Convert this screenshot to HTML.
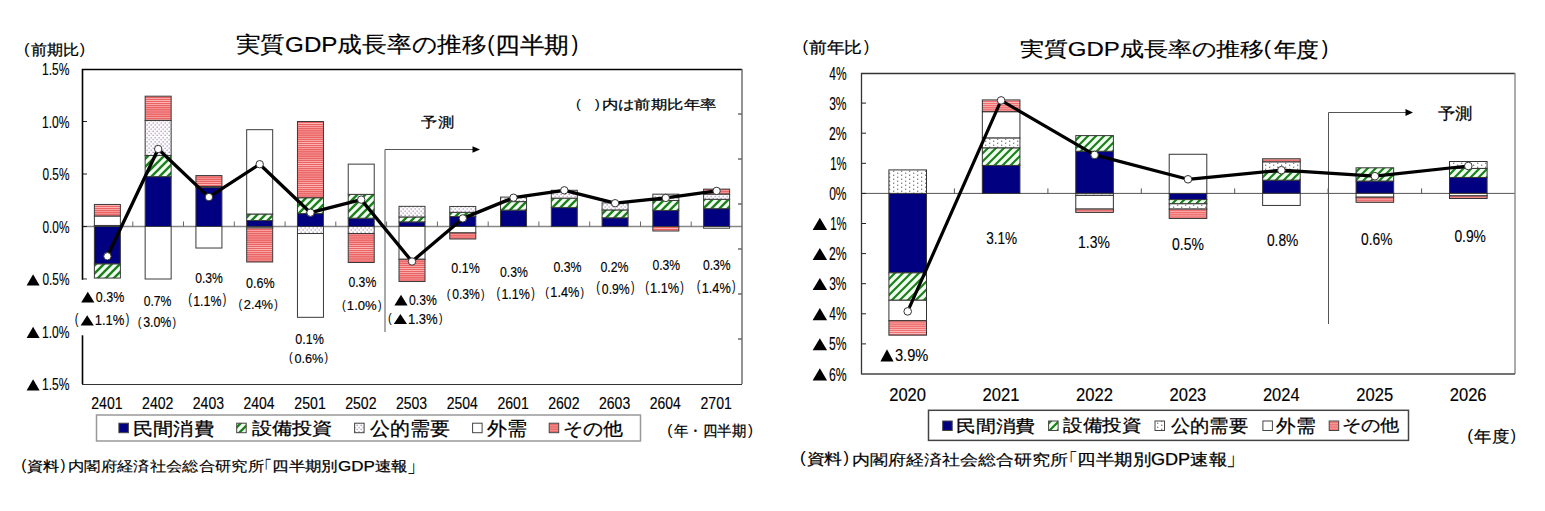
<!DOCTYPE html><html><head><meta charset="utf-8"><style>html,body{margin:0;padding:0;background:#fff;}svg{display:block;}text{font-family:"Liberation Sans", sans-serif;fill:#000;}</style></head><body>
<svg width="1545" height="511" viewBox="0 0 1545 511">
<defs>
<pattern id="pg" patternUnits="userSpaceOnUse" width="8" height="8"><rect width="8" height="8" fill="#f4fff4"/><path d="M-2,2 L2,-2 M0,8 L8,0 M6,10 L10,6" stroke="#1c801c" stroke-width="2.4"/></pattern>
<pattern id="pg2" patternUnits="userSpaceOnUse" width="8" height="8"><rect width="8" height="8" fill="#f0fff0"/><path d="M-2,2 L2,-2 M0,8 L8,0 M6,10 L10,6" stroke="#1c801c" stroke-width="2.2"/></pattern>
<pattern id="pd" patternUnits="userSpaceOnUse" width="4" height="4.2"><rect width="4" height="4.2" fill="#fdfbfe"/><rect x="0.6" y="0.6" width="1.1" height="1.1" fill="#8a7a9a"/><rect x="2.6" y="2.7" width="1.1" height="1.1" fill="#8a7a9a"/></pattern>
<pattern id="pd2" patternUnits="userSpaceOnUse" width="8" height="4"><rect width="8" height="4" fill="#ffffff"/><rect x="1" y="0.6" width="1.3" height="1.3" fill="#7c7c7c"/><rect x="5" y="2.6" width="1.3" height="1.3" fill="#7c7c7c"/></pattern>
<pattern id="pr" patternUnits="userSpaceOnUse" width="4" height="2.1"><rect width="4" height="2.1" fill="#ea6464"/><rect y="1.4" width="4" height="0.7" fill="#ffb8b8"/></pattern>
<pattern id="pr2" patternUnits="userSpaceOnUse" width="4" height="2.1"><rect width="4" height="2.1" fill="#ee7070"/><rect y="1.4" width="4" height="0.7" fill="#ffc0c0"/></pattern>
</defs>
<rect x="82.5" y="69.5" width="660" height="315" fill="#fff" stroke="none"/>
<line x1="82" y1="226.5" x2="742" y2="226.5" stroke="#888" stroke-width="1.5"/>
<line x1="132.8" y1="226.5" x2="132.8" y2="221.5" stroke="#666" stroke-width="1"/>
<line x1="183.5" y1="226.5" x2="183.5" y2="221.5" stroke="#666" stroke-width="1"/>
<line x1="234.3" y1="226.5" x2="234.3" y2="221.5" stroke="#666" stroke-width="1"/>
<line x1="285.1" y1="226.5" x2="285.1" y2="221.5" stroke="#666" stroke-width="1"/>
<line x1="335.8" y1="226.5" x2="335.8" y2="221.5" stroke="#666" stroke-width="1"/>
<line x1="386.6" y1="226.5" x2="386.6" y2="221.5" stroke="#666" stroke-width="1"/>
<line x1="437.4" y1="226.5" x2="437.4" y2="221.5" stroke="#666" stroke-width="1"/>
<line x1="488.2" y1="226.5" x2="488.2" y2="221.5" stroke="#666" stroke-width="1"/>
<line x1="538.9" y1="226.5" x2="538.9" y2="221.5" stroke="#666" stroke-width="1"/>
<line x1="589.7" y1="226.5" x2="589.7" y2="221.5" stroke="#666" stroke-width="1"/>
<line x1="640.5" y1="226.5" x2="640.5" y2="221.5" stroke="#666" stroke-width="1"/>
<line x1="691.2" y1="226.5" x2="691.2" y2="221.5" stroke="#666" stroke-width="1"/>
<line x1="738" y1="114" x2="742" y2="114" stroke="#222" stroke-width="1"/>
<line x1="738" y1="159" x2="742" y2="159" stroke="#222" stroke-width="1"/>
<line x1="738" y1="204" x2="742" y2="204" stroke="#222" stroke-width="1"/>
<line x1="738" y1="249" x2="742" y2="249" stroke="#222" stroke-width="1"/>
<line x1="738" y1="294" x2="742" y2="294" stroke="#222" stroke-width="1"/>
<line x1="738" y1="339" x2="742" y2="339" stroke="#222" stroke-width="1"/>
<line x1="82" y1="121.5" x2="87" y2="121.5" stroke="#222" stroke-width="1"/>
<line x1="82" y1="174.0" x2="87" y2="174.0" stroke="#222" stroke-width="1"/>
<line x1="82" y1="226.5" x2="87" y2="226.5" stroke="#222" stroke-width="1"/>
<line x1="82" y1="279.0" x2="87" y2="279.0" stroke="#222" stroke-width="1"/>
<line x1="82" y1="331.5" x2="87" y2="331.5" stroke="#222" stroke-width="1"/>
<rect x="94.38" y="226.50" width="26.00" height="37.48" fill="#000080" stroke="#3a3a3a" stroke-width="1"/>
<rect x="94.38" y="263.99" width="26.00" height="14.07" fill="url(#pg)" stroke="#3a3a3a" stroke-width="1"/>
<rect x="94.38" y="225.45" width="26.00" height="1.05" fill="url(#pd)" stroke="#3a3a3a" stroke-width="1"/>
<rect x="94.38" y="216.00" width="26.00" height="9.45" fill="#ffffff" stroke="#3a3a3a" stroke-width="1"/>
<rect x="94.38" y="204.45" width="26.00" height="11.55" fill="url(#pr)" stroke="#3a3a3a" stroke-width="1"/>
<rect x="145.15" y="176.62" width="26.00" height="49.88" fill="#000080" stroke="#3a3a3a" stroke-width="1"/>
<rect x="145.15" y="155.52" width="26.00" height="21.11" fill="url(#pg)" stroke="#3a3a3a" stroke-width="1"/>
<rect x="145.15" y="120.34" width="26.00" height="35.18" fill="url(#pd)" stroke="#3a3a3a" stroke-width="1"/>
<rect x="145.15" y="226.50" width="26.00" height="52.50" fill="#ffffff" stroke="#3a3a3a" stroke-width="1"/>
<rect x="145.15" y="96.19" width="26.00" height="24.15" fill="url(#pr)" stroke="#3a3a3a" stroke-width="1"/>
<rect x="195.92" y="187.55" width="26.00" height="38.95" fill="#000080" stroke="#3a3a3a" stroke-width="1"/>
<rect x="195.92" y="186.50" width="26.00" height="1.05" fill="url(#pd)" stroke="#3a3a3a" stroke-width="1"/>
<rect x="195.92" y="226.50" width="26.00" height="21.52" fill="#ffffff" stroke="#3a3a3a" stroke-width="1"/>
<rect x="195.92" y="175.58" width="26.00" height="10.92" fill="url(#pr)" stroke="#3a3a3a" stroke-width="1"/>
<rect x="246.69" y="220.51" width="26.00" height="5.99" fill="#000080" stroke="#3a3a3a" stroke-width="1"/>
<rect x="246.69" y="214.00" width="26.00" height="6.51" fill="url(#pg)" stroke="#3a3a3a" stroke-width="1"/>
<rect x="246.69" y="226.50" width="26.00" height="1.47" fill="url(#pd)" stroke="#3a3a3a" stroke-width="1"/>
<rect x="246.69" y="129.69" width="26.00" height="84.32" fill="#ffffff" stroke="#3a3a3a" stroke-width="1"/>
<rect x="246.69" y="227.97" width="26.00" height="34.02" fill="url(#pr)" stroke="#3a3a3a" stroke-width="1"/>
<rect x="297.46" y="213.59" width="26.00" height="12.91" fill="#000080" stroke="#3a3a3a" stroke-width="1"/>
<rect x="297.46" y="197.73" width="26.00" height="15.85" fill="url(#pg)" stroke="#3a3a3a" stroke-width="1"/>
<rect x="297.46" y="226.50" width="26.00" height="7.04" fill="url(#pd)" stroke="#3a3a3a" stroke-width="1"/>
<rect x="297.46" y="233.53" width="26.00" height="83.79" fill="#ffffff" stroke="#3a3a3a" stroke-width="1"/>
<rect x="297.46" y="121.50" width="26.00" height="76.23" fill="url(#pr)" stroke="#3a3a3a" stroke-width="1"/>
<rect x="348.23" y="218.21" width="26.00" height="8.29" fill="#000080" stroke="#3a3a3a" stroke-width="1"/>
<rect x="348.23" y="194.37" width="26.00" height="23.84" fill="url(#pg)" stroke="#3a3a3a" stroke-width="1"/>
<rect x="348.23" y="226.50" width="26.00" height="7.04" fill="url(#pd)" stroke="#3a3a3a" stroke-width="1"/>
<rect x="348.23" y="164.13" width="26.00" height="30.24" fill="#ffffff" stroke="#3a3a3a" stroke-width="1"/>
<rect x="348.23" y="233.53" width="26.00" height="28.98" fill="url(#pr)" stroke="#3a3a3a" stroke-width="1"/>
<rect x="399.00" y="221.88" width="26.00" height="4.62" fill="#000080" stroke="#3a3a3a" stroke-width="1"/>
<rect x="399.00" y="216.94" width="26.00" height="4.93" fill="url(#pg)" stroke="#3a3a3a" stroke-width="1"/>
<rect x="399.00" y="206.34" width="26.00" height="10.61" fill="url(#pd)" stroke="#3a3a3a" stroke-width="1"/>
<rect x="399.00" y="226.50" width="26.00" height="32.76" fill="#ffffff" stroke="#3a3a3a" stroke-width="1"/>
<rect x="399.00" y="259.26" width="26.00" height="22.26" fill="url(#pr)" stroke="#3a3a3a" stroke-width="1"/>
<rect x="449.77" y="216.53" width="26.00" height="9.97" fill="#000080" stroke="#3a3a3a" stroke-width="1"/>
<rect x="449.77" y="212.33" width="26.00" height="4.20" fill="url(#pg)" stroke="#3a3a3a" stroke-width="1"/>
<rect x="449.77" y="206.45" width="26.00" height="5.88" fill="url(#pd)" stroke="#3a3a3a" stroke-width="1"/>
<rect x="449.77" y="226.50" width="26.00" height="6.41" fill="#ffffff" stroke="#3a3a3a" stroke-width="1"/>
<rect x="449.77" y="232.91" width="26.00" height="6.09" fill="url(#pr)" stroke="#3a3a3a" stroke-width="1"/>
<rect x="500.54" y="210.12" width="26.00" height="16.38" fill="#000080" stroke="#3a3a3a" stroke-width="1"/>
<rect x="500.54" y="201.62" width="26.00" height="8.51" fill="url(#pg)" stroke="#3a3a3a" stroke-width="1"/>
<rect x="500.54" y="197.10" width="26.00" height="4.51" fill="url(#pd)" stroke="#3a3a3a" stroke-width="1"/>
<rect x="551.31" y="207.60" width="26.00" height="18.90" fill="#000080" stroke="#3a3a3a" stroke-width="1"/>
<rect x="551.31" y="198.15" width="26.00" height="9.45" fill="url(#pg)" stroke="#3a3a3a" stroke-width="1"/>
<rect x="551.31" y="190.28" width="26.00" height="7.88" fill="url(#pd)" stroke="#3a3a3a" stroke-width="1"/>
<rect x="602.08" y="217.78" width="26.00" height="8.71" fill="#000080" stroke="#3a3a3a" stroke-width="1"/>
<rect x="602.08" y="209.91" width="26.00" height="7.88" fill="url(#pg)" stroke="#3a3a3a" stroke-width="1"/>
<rect x="602.08" y="202.88" width="26.00" height="7.04" fill="url(#pd)" stroke="#3a3a3a" stroke-width="1"/>
<rect x="652.85" y="210.44" width="26.00" height="16.07" fill="#000080" stroke="#3a3a3a" stroke-width="1"/>
<rect x="652.85" y="200.46" width="26.00" height="9.97" fill="url(#pg)" stroke="#3a3a3a" stroke-width="1"/>
<rect x="652.85" y="194.16" width="26.00" height="6.30" fill="url(#pd)" stroke="#3a3a3a" stroke-width="1"/>
<rect x="652.85" y="226.50" width="26.00" height="4.51" fill="url(#pr)" stroke="#3a3a3a" stroke-width="1"/>
<rect x="703.62" y="208.65" width="26.00" height="17.85" fill="#000080" stroke="#3a3a3a" stroke-width="1"/>
<rect x="703.62" y="199.31" width="26.00" height="9.34" fill="url(#pg)" stroke="#3a3a3a" stroke-width="1"/>
<rect x="703.62" y="194.06" width="26.00" height="5.25" fill="url(#pd)" stroke="#3a3a3a" stroke-width="1"/>
<rect x="703.62" y="226.50" width="26.00" height="1.68" fill="#ffffff" stroke="#3a3a3a" stroke-width="1"/>
<rect x="703.62" y="189.12" width="26.00" height="4.93" fill="url(#pr)" stroke="#3a3a3a" stroke-width="1"/>
<path d="M385,332 L385,149.5 L474,149.5" fill="none" stroke="#555" stroke-width="1"/>
<path d="M480,149.5 L472.5,146.3 L472.5,152.7 Z" fill="#000"/>
<polyline points="107.4,256.3 158.2,149.0 208.9,197.1 259.7,164.2 310.5,212.7 361.2,199.6 412.0,261.5 462.8,218.4 513.5,197.7 564.3,190.3 615.1,203.2 665.8,197.9 716.6,190.9" fill="none" stroke="#000" stroke-width="3.3" stroke-linejoin="round"/>
<circle cx="107.4" cy="256.3" r="3.7" fill="#fff" stroke="#333" stroke-width="1"/>
<circle cx="158.2" cy="149.0" r="3.7" fill="#fff" stroke="#333" stroke-width="1"/>
<circle cx="208.9" cy="197.1" r="3.7" fill="#fff" stroke="#333" stroke-width="1"/>
<circle cx="259.7" cy="164.2" r="3.7" fill="#fff" stroke="#333" stroke-width="1"/>
<circle cx="310.5" cy="212.7" r="3.7" fill="#fff" stroke="#333" stroke-width="1"/>
<circle cx="361.2" cy="199.6" r="3.7" fill="#fff" stroke="#333" stroke-width="1"/>
<circle cx="412.0" cy="261.5" r="3.7" fill="#fff" stroke="#333" stroke-width="1"/>
<circle cx="462.8" cy="218.4" r="3.7" fill="#fff" stroke="#333" stroke-width="1"/>
<circle cx="513.5" cy="197.7" r="3.7" fill="#fff" stroke="#333" stroke-width="1"/>
<circle cx="564.3" cy="190.3" r="3.7" fill="#fff" stroke="#333" stroke-width="1"/>
<circle cx="615.1" cy="203.2" r="3.7" fill="#fff" stroke="#333" stroke-width="1"/>
<circle cx="665.8" cy="197.9" r="3.7" fill="#fff" stroke="#333" stroke-width="1"/>
<circle cx="716.6" cy="190.9" r="3.7" fill="#fff" stroke="#333" stroke-width="1"/>
<path d="M82.5,384 L82.5,69.5 L742,69.5" fill="none" stroke="#000" stroke-width="1.6"/>
<line x1="742" y1="69" x2="742" y2="384" stroke="#666" stroke-width="1.4"/>
<line x1="82" y1="384.5" x2="742" y2="384.5" stroke="#333" stroke-width="1.1"/>
<line x1="861" y1="193.4" x2="1515" y2="193.4" stroke="#555" stroke-width="1"/>
<line x1="954.4" y1="193.4" x2="954.4" y2="188.4" stroke="#555" stroke-width="1"/>
<line x1="1047.9" y1="193.4" x2="1047.9" y2="188.4" stroke="#555" stroke-width="1"/>
<line x1="1141.3" y1="193.4" x2="1141.3" y2="188.4" stroke="#555" stroke-width="1"/>
<line x1="1234.7" y1="193.4" x2="1234.7" y2="188.4" stroke="#555" stroke-width="1"/>
<line x1="1328.1" y1="193.4" x2="1328.1" y2="188.4" stroke="#555" stroke-width="1"/>
<line x1="1421.6" y1="193.4" x2="1421.6" y2="188.4" stroke="#555" stroke-width="1"/>
<line x1="861" y1="103.1" x2="866" y2="103.1" stroke="#222" stroke-width="1"/>
<line x1="861" y1="133.2" x2="866" y2="133.2" stroke="#222" stroke-width="1"/>
<line x1="861" y1="163.3" x2="866" y2="163.3" stroke="#222" stroke-width="1"/>
<line x1="861" y1="193.4" x2="866" y2="193.4" stroke="#222" stroke-width="1"/>
<line x1="861" y1="223.5" x2="866" y2="223.5" stroke="#222" stroke-width="1"/>
<line x1="861" y1="253.6" x2="866" y2="253.6" stroke="#222" stroke-width="1"/>
<line x1="861" y1="283.7" x2="866" y2="283.7" stroke="#222" stroke-width="1"/>
<line x1="861" y1="313.8" x2="866" y2="313.8" stroke="#222" stroke-width="1"/>
<line x1="861" y1="343.9" x2="866" y2="343.9" stroke="#222" stroke-width="1"/>
<rect x="888.91" y="193.40" width="37.60" height="79.46" fill="#000080" stroke="#333" stroke-width="1"/>
<rect x="888.91" y="272.86" width="37.60" height="27.39" fill="url(#pg2)" stroke="#333" stroke-width="1"/>
<rect x="888.91" y="169.92" width="37.60" height="23.48" fill="url(#pd2)" stroke="#333" stroke-width="1"/>
<rect x="888.91" y="300.26" width="37.60" height="20.47" fill="#ffffff" stroke="#333" stroke-width="1"/>
<rect x="888.91" y="320.72" width="37.60" height="14.45" fill="url(#pr2)" stroke="#333" stroke-width="1"/>
<rect x="982.34" y="165.41" width="37.60" height="27.99" fill="#000080" stroke="#333" stroke-width="1"/>
<rect x="982.34" y="147.80" width="37.60" height="17.61" fill="url(#pg2)" stroke="#333" stroke-width="1"/>
<rect x="982.34" y="137.87" width="37.60" height="9.93" fill="url(#pd2)" stroke="#333" stroke-width="1"/>
<rect x="982.34" y="111.68" width="37.60" height="26.19" fill="#ffffff" stroke="#333" stroke-width="1"/>
<rect x="982.34" y="99.94" width="37.60" height="11.74" fill="url(#pr2)" stroke="#333" stroke-width="1"/>
<rect x="1075.77" y="151.26" width="37.60" height="42.14" fill="#000080" stroke="#333" stroke-width="1"/>
<rect x="1075.77" y="135.61" width="37.60" height="15.65" fill="url(#pg2)" stroke="#333" stroke-width="1"/>
<rect x="1075.77" y="193.40" width="37.60" height="1.99" fill="url(#pd2)" stroke="#333" stroke-width="1"/>
<rect x="1075.77" y="195.39" width="37.60" height="13.70" fill="#ffffff" stroke="#333" stroke-width="1"/>
<rect x="1075.77" y="209.08" width="37.60" height="3.31" fill="url(#pr2)" stroke="#333" stroke-width="1"/>
<rect x="1169.20" y="193.40" width="37.60" height="6.20" fill="#000080" stroke="#333" stroke-width="1"/>
<rect x="1169.20" y="199.60" width="37.60" height="4.21" fill="url(#pg2)" stroke="#333" stroke-width="1"/>
<rect x="1169.20" y="203.81" width="37.60" height="5.30" fill="url(#pd2)" stroke="#333" stroke-width="1"/>
<rect x="1169.20" y="154.27" width="37.60" height="39.13" fill="#ffffff" stroke="#333" stroke-width="1"/>
<rect x="1169.20" y="209.11" width="37.60" height="9.33" fill="url(#pr2)" stroke="#333" stroke-width="1"/>
<rect x="1262.63" y="180.16" width="37.60" height="13.24" fill="#000080" stroke="#333" stroke-width="1"/>
<rect x="1262.63" y="172.03" width="37.60" height="8.13" fill="url(#pg2)" stroke="#333" stroke-width="1"/>
<rect x="1262.63" y="161.79" width="37.60" height="10.23" fill="url(#pd2)" stroke="#333" stroke-width="1"/>
<rect x="1262.63" y="193.40" width="37.60" height="12.04" fill="#ffffff" stroke="#333" stroke-width="1"/>
<rect x="1262.63" y="158.78" width="37.60" height="3.01" fill="url(#pr2)" stroke="#333" stroke-width="1"/>
<rect x="1356.06" y="181.06" width="37.60" height="12.34" fill="#000080" stroke="#333" stroke-width="1"/>
<rect x="1356.06" y="167.81" width="37.60" height="13.24" fill="url(#pg2)" stroke="#333" stroke-width="1"/>
<rect x="1356.06" y="193.40" width="37.60" height="3.79" fill="#ffffff" stroke="#333" stroke-width="1"/>
<rect x="1356.06" y="197.19" width="37.60" height="5.12" fill="url(#pr2)" stroke="#333" stroke-width="1"/>
<rect x="1449.49" y="177.45" width="37.60" height="15.95" fill="#000080" stroke="#333" stroke-width="1"/>
<rect x="1449.49" y="168.42" width="37.60" height="9.03" fill="url(#pg2)" stroke="#333" stroke-width="1"/>
<rect x="1449.49" y="161.49" width="37.60" height="6.92" fill="url(#pd2)" stroke="#333" stroke-width="1"/>
<rect x="1449.49" y="193.40" width="37.60" height="2.50" fill="#ffffff" stroke="#333" stroke-width="1"/>
<rect x="1449.49" y="195.90" width="37.60" height="2.59" fill="url(#pr2)" stroke="#333" stroke-width="1"/>
<path d="M1328.5,324 L1328.5,112.5 L1407,112.5" fill="none" stroke="#555" stroke-width="1"/>
<path d="M1413,112.5 L1405.5,109 L1405.5,116 Z" fill="#000"/>
<polyline points="907.7,311.4 1001.1,100.4 1094.6,154.9 1188.0,179.3 1281.4,170.2 1374.9,176.2 1468.3,166.0" fill="none" stroke="#000" stroke-width="3.2" stroke-linejoin="round"/>
<circle cx="907.7" cy="311.4" r="3.8" fill="#fff" stroke="#333" stroke-width="1"/>
<circle cx="1001.1" cy="100.4" r="3.8" fill="#fff" stroke="#333" stroke-width="1"/>
<circle cx="1094.6" cy="154.9" r="3.8" fill="#fff" stroke="#333" stroke-width="1"/>
<circle cx="1188.0" cy="179.3" r="3.8" fill="#fff" stroke="#333" stroke-width="1"/>
<circle cx="1281.4" cy="170.2" r="3.8" fill="#fff" stroke="#333" stroke-width="1"/>
<circle cx="1374.9" cy="176.2" r="3.8" fill="#fff" stroke="#333" stroke-width="1"/>
<circle cx="1468.3" cy="166.0" r="3.8" fill="#fff" stroke="#333" stroke-width="1"/>
<path d="M861.5,374 L861.5,73.5 L1515,73.5" fill="none" stroke="#333" stroke-width="1.3"/>
<line x1="1515" y1="73" x2="1515" y2="374" stroke="#888" stroke-width="1.4"/>
<line x1="861" y1="374" x2="1515" y2="374" stroke="#444" stroke-width="1.3"/>
<rect x="96.5" y="415" width="544.0" height="26" fill="#fff" stroke="#999" stroke-width="1.5"/>
<rect x="118.9" y="423.2" width="9.5" height="9.5" fill="#000080" stroke="#444" stroke-width="1"/>
<text x="132.98" y="434.74" font-size="17.76" textLength="81.03" lengthAdjust="spacingAndGlyphs" stroke="#000" stroke-width="0.25">民間消費</text>
<rect x="236.7" y="423.2" width="9.5" height="9.5" fill="url(#pg)" stroke="#444" stroke-width="1"/>
<text x="251.60" y="434.30" font-size="17.23" textLength="80.91" lengthAdjust="spacingAndGlyphs" stroke="#000" stroke-width="0.25">設備投資</text>
<rect x="354.6" y="423.2" width="9.5" height="9.5" fill="url(#pd)" stroke="#444" stroke-width="1"/>
<text x="370.30" y="435.01" font-size="18.53" textLength="79.90" lengthAdjust="spacingAndGlyphs" stroke="#000" stroke-width="0.25">公的需要</text>
<rect x="472.6" y="423.2" width="9.5" height="9.5" fill="#ffffff" stroke="#444" stroke-width="1"/>
<text x="487.30" y="434.98" font-size="18.72" textLength="40.00" lengthAdjust="spacingAndGlyphs" stroke="#000" stroke-width="0.25">外需</text>
<rect x="549.2" y="423.2" width="9.5" height="9.5" fill="url(#pr)" stroke="#444" stroke-width="1"/>
<text x="562.93" y="434.55" font-size="17.96" textLength="59.67" lengthAdjust="spacingAndGlyphs" stroke="#000" stroke-width="0.25">その他</text>
<rect x="928.5" y="410.3" width="480.0" height="30.099999999999966" fill="#fff" stroke="#444" stroke-width="1.5"/>
<rect x="942.7" y="421.0" width="9.5" height="9.5" fill="#000080" stroke="#444" stroke-width="1"/>
<text x="955.71" y="431.58" font-size="17.45" textLength="79.69" lengthAdjust="spacingAndGlyphs" stroke="#000" stroke-width="0.25">民間消費</text>
<rect x="1048.6" y="421.0" width="9.5" height="9.5" fill="url(#pg2)" stroke="#444" stroke-width="1"/>
<text x="1063.30" y="431.15" font-size="16.93" textLength="78.38" lengthAdjust="spacingAndGlyphs" stroke="#000" stroke-width="0.25">設備投資</text>
<rect x="1155.0" y="421.0" width="9.5" height="9.5" fill="url(#pd2)" stroke="#444" stroke-width="1"/>
<text x="1170.80" y="431.68" font-size="18.00" textLength="77.17" lengthAdjust="spacingAndGlyphs" stroke="#000" stroke-width="0.25">公的需要</text>
<rect x="1262.9" y="421.0" width="9.5" height="9.5" fill="#ffffff" stroke="#444" stroke-width="1"/>
<text x="1275.90" y="431.65" font-size="18.19" textLength="39.39" lengthAdjust="spacingAndGlyphs" stroke="#000" stroke-width="0.25">外需</text>
<rect x="1329.2" y="421.0" width="9.5" height="9.5" fill="url(#pr2)" stroke="#444" stroke-width="1"/>
<text x="1341.88" y="431.23" font-size="17.45" textLength="57.51" lengthAdjust="spacingAndGlyphs" stroke="#000" stroke-width="0.25">その他</text>
<text x="235.71" y="52.32" font-size="21.54" textLength="251.12" lengthAdjust="spacingAndGlyphs" stroke="#000" stroke-width="0.15">実質GDP成長率の推移</text>
<text x="487.19" y="51.14" font-size="21.70" textLength="7.28" lengthAdjust="spacingAndGlyphs" stroke="#000" stroke-width="0.0">(</text>
<text x="494.84" y="53.17" font-size="23.33" textLength="74.09" lengthAdjust="spacingAndGlyphs" stroke="#000" stroke-width="0.25">四半期</text>
<text x="571.60" y="51.14" font-size="21.70" textLength="6.90" lengthAdjust="spacingAndGlyphs" stroke="#000" stroke-width="0.0">)</text>
<text x="23.90" y="53.91" font-size="14.26" textLength="5.55" lengthAdjust="spacingAndGlyphs" stroke="#000" stroke-width="0.0">(</text>
<text x="30.74" y="55.26" font-size="14.90" textLength="48.27" lengthAdjust="spacingAndGlyphs" stroke="#000" stroke-width="0.25">前期比</text>
<text x="79.80" y="53.91" font-size="14.26" textLength="5.35" lengthAdjust="spacingAndGlyphs" stroke="#000" stroke-width="0.0">)</text>
<text x="41.96" y="75.24" font-size="15.77" textLength="27.50" lengthAdjust="spacingAndGlyphs" stroke="#000" stroke-width="0.15">1.5%</text>
<text x="41.96" y="127.74" font-size="15.77" textLength="27.50" lengthAdjust="spacingAndGlyphs" stroke="#000" stroke-width="0.15">1.0%</text>
<text x="42.44" y="180.24" font-size="15.77" textLength="27.00" lengthAdjust="spacingAndGlyphs" stroke="#000" stroke-width="0.15">0.5%</text>
<text x="42.44" y="232.74" font-size="15.77" textLength="27.00" lengthAdjust="spacingAndGlyphs" stroke="#000" stroke-width="0.15">0.0%</text>
<path d="M26.60,285.50 L39.60,285.50 L33.10,274.30 Z" fill="#000"/>
<text x="42.44" y="285.24" font-size="15.77" textLength="27.00" lengthAdjust="spacingAndGlyphs" stroke="#000" stroke-width="0.15">0.5%</text>
<path d="M26.60,338.00 L39.60,338.00 L33.10,326.80 Z" fill="#000"/>
<text x="41.96" y="337.74" font-size="15.77" textLength="27.50" lengthAdjust="spacingAndGlyphs" stroke="#000" stroke-width="0.15">1.0%</text>
<path d="M26.60,390.50 L39.60,390.50 L33.10,379.30 Z" fill="#000"/>
<text x="41.96" y="390.24" font-size="15.77" textLength="27.50" lengthAdjust="spacingAndGlyphs" stroke="#000" stroke-width="0.15">1.5%</text>
<text x="91.28" y="408.84" font-size="16.34" textLength="31.36" lengthAdjust="spacingAndGlyphs" stroke="#000" stroke-width="0.15">2401</text>
<text x="142.05" y="408.84" font-size="16.34" textLength="31.36" lengthAdjust="spacingAndGlyphs" stroke="#000" stroke-width="0.15">2402</text>
<text x="192.82" y="408.84" font-size="16.34" textLength="31.21" lengthAdjust="spacingAndGlyphs" stroke="#000" stroke-width="0.15">2403</text>
<text x="243.59" y="408.84" font-size="16.34" textLength="31.06" lengthAdjust="spacingAndGlyphs" stroke="#000" stroke-width="0.15">2404</text>
<text x="294.36" y="408.84" font-size="16.34" textLength="31.36" lengthAdjust="spacingAndGlyphs" stroke="#000" stroke-width="0.15">2501</text>
<text x="345.13" y="408.84" font-size="16.34" textLength="31.36" lengthAdjust="spacingAndGlyphs" stroke="#000" stroke-width="0.15">2502</text>
<text x="395.90" y="408.84" font-size="16.34" textLength="31.21" lengthAdjust="spacingAndGlyphs" stroke="#000" stroke-width="0.15">2503</text>
<text x="446.67" y="408.84" font-size="16.34" textLength="31.06" lengthAdjust="spacingAndGlyphs" stroke="#000" stroke-width="0.15">2504</text>
<text x="497.43" y="408.84" font-size="16.34" textLength="31.36" lengthAdjust="spacingAndGlyphs" stroke="#000" stroke-width="0.15">2601</text>
<text x="548.20" y="408.84" font-size="16.34" textLength="31.36" lengthAdjust="spacingAndGlyphs" stroke="#000" stroke-width="0.15">2602</text>
<text x="598.98" y="408.84" font-size="16.34" textLength="31.21" lengthAdjust="spacingAndGlyphs" stroke="#000" stroke-width="0.15">2603</text>
<text x="649.75" y="408.84" font-size="16.34" textLength="31.06" lengthAdjust="spacingAndGlyphs" stroke="#000" stroke-width="0.15">2604</text>
<text x="700.51" y="408.84" font-size="16.34" textLength="31.36" lengthAdjust="spacingAndGlyphs" stroke="#000" stroke-width="0.15">2701</text>
<rect x="70" y="279.8" width="62" height="55.5" fill="#fff"/>
<path d="M81.20,302.60 L94.40,302.60 L87.80,291.80 Z" fill="#000"/>
<text x="95.83" y="302.45" font-size="15.21" textLength="28.44" lengthAdjust="spacingAndGlyphs" stroke="#000" stroke-width="0.15">0.3%</text>
<text x="74.73" y="324.02" font-size="13.72" textLength="3.70" lengthAdjust="spacingAndGlyphs" stroke="#000" stroke-width="0.0">(</text>
<text x="125.70" y="324.02" font-size="13.72" textLength="3.57" lengthAdjust="spacingAndGlyphs" stroke="#000" stroke-width="0.0">)</text>
<path d="M80.60,325.60 L93.80,325.60 L87.20,315.30 Z" fill="#000"/>
<text x="94.68" y="325.45" font-size="14.51" textLength="29.80" lengthAdjust="spacingAndGlyphs" stroke="#000" stroke-width="0.15">1.1%</text>
<text x="143.63" y="305.65" font-size="14.79" textLength="27.82" lengthAdjust="spacingAndGlyphs" stroke="#000" stroke-width="0.15">0.7%</text>
<text x="137.63" y="325.76" font-size="13.51" textLength="3.70" lengthAdjust="spacingAndGlyphs" stroke="#000" stroke-width="0.0">(</text>
<text x="172.60" y="325.76" font-size="13.51" textLength="3.57" lengthAdjust="spacingAndGlyphs" stroke="#000" stroke-width="0.0">)</text>
<text x="143.13" y="327.16" font-size="14.23" textLength="28.23" lengthAdjust="spacingAndGlyphs" stroke="#000" stroke-width="0.15">3.0%</text>
<text x="195.14" y="282.85" font-size="14.79" textLength="27.72" lengthAdjust="spacingAndGlyphs" stroke="#000" stroke-width="0.15">0.3%</text>
<text x="188.23" y="304.05" font-size="14.04" textLength="3.70" lengthAdjust="spacingAndGlyphs" stroke="#000" stroke-width="0.0">(</text>
<text x="222.70" y="304.05" font-size="14.04" textLength="3.57" lengthAdjust="spacingAndGlyphs" stroke="#000" stroke-width="0.0">)</text>
<text x="193.23" y="305.55" font-size="14.93" textLength="28.23" lengthAdjust="spacingAndGlyphs" stroke="#000" stroke-width="0.15">1.1%</text>
<text x="246.02" y="287.85" font-size="14.51" textLength="28.54" lengthAdjust="spacingAndGlyphs" stroke="#000" stroke-width="0.15">0.6%</text>
<text x="238.53" y="307.99" font-size="12.45" textLength="3.70" lengthAdjust="spacingAndGlyphs" stroke="#000" stroke-width="0.0">(</text>
<text x="274.30" y="307.99" font-size="12.45" textLength="3.57" lengthAdjust="spacingAndGlyphs" stroke="#000" stroke-width="0.0">)</text>
<text x="243.76" y="309.17" font-size="12.82" textLength="29.32" lengthAdjust="spacingAndGlyphs" stroke="#000" stroke-width="0.15">2.4%</text>
<text x="295.32" y="343.95" font-size="14.51" textLength="28.54" lengthAdjust="spacingAndGlyphs" stroke="#000" stroke-width="0.15">0.1%</text>
<text x="288.93" y="361.39" font-size="12.45" textLength="3.70" lengthAdjust="spacingAndGlyphs" stroke="#000" stroke-width="0.0">(</text>
<text x="324.60" y="361.39" font-size="12.45" textLength="3.57" lengthAdjust="spacingAndGlyphs" stroke="#000" stroke-width="0.0">)</text>
<text x="294.42" y="362.57" font-size="12.82" textLength="28.95" lengthAdjust="spacingAndGlyphs" stroke="#000" stroke-width="0.15">0.6%</text>
<text x="348.43" y="287.05" font-size="14.79" textLength="27.82" lengthAdjust="spacingAndGlyphs" stroke="#000" stroke-width="0.15">0.3%</text>
<text x="341.93" y="308.99" font-size="12.45" textLength="3.70" lengthAdjust="spacingAndGlyphs" stroke="#000" stroke-width="0.0">(</text>
<text x="378.00" y="308.99" font-size="12.45" textLength="3.57" lengthAdjust="spacingAndGlyphs" stroke="#000" stroke-width="0.0">)</text>
<text x="346.88" y="310.17" font-size="12.82" textLength="29.90" lengthAdjust="spacingAndGlyphs" stroke="#000" stroke-width="0.15">1.0%</text>
<path d="M394.40,305.50 L407.60,305.50 L401.00,294.80 Z" fill="#000"/>
<text x="409.03" y="305.35" font-size="15.07" textLength="27.82" lengthAdjust="spacingAndGlyphs" stroke="#000" stroke-width="0.15">0.3%</text>
<text x="387.93" y="322.39" font-size="13.40" textLength="3.70" lengthAdjust="spacingAndGlyphs" stroke="#000" stroke-width="0.0">(</text>
<text x="438.90" y="322.39" font-size="13.40" textLength="3.57" lengthAdjust="spacingAndGlyphs" stroke="#000" stroke-width="0.0">)</text>
<path d="M393.80,323.90 L407.00,323.90 L400.40,313.90 Z" fill="#000"/>
<text x="407.88" y="323.76" font-size="14.08" textLength="29.80" lengthAdjust="spacingAndGlyphs" stroke="#000" stroke-width="0.15">1.3%</text>
<text x="451.33" y="273.05" font-size="15.07" textLength="28.44" lengthAdjust="spacingAndGlyphs" stroke="#000" stroke-width="0.15">0.1%</text>
<text x="446.63" y="297.54" font-size="13.62" textLength="3.70" lengthAdjust="spacingAndGlyphs" stroke="#000" stroke-width="0.0">(</text>
<text x="481.10" y="297.54" font-size="13.62" textLength="3.57" lengthAdjust="spacingAndGlyphs" stroke="#000" stroke-width="0.0">)</text>
<text x="452.14" y="298.96" font-size="14.37" textLength="27.72" lengthAdjust="spacingAndGlyphs" stroke="#000" stroke-width="0.15">0.3%</text>
<text x="499.93" y="276.75" font-size="14.79" textLength="27.92" lengthAdjust="spacingAndGlyphs" stroke="#000" stroke-width="0.15">0.3%</text>
<text x="496.43" y="297.93" font-size="14.15" textLength="3.70" lengthAdjust="spacingAndGlyphs" stroke="#000" stroke-width="0.0">(</text>
<text x="531.20" y="297.93" font-size="14.15" textLength="3.57" lengthAdjust="spacingAndGlyphs" stroke="#000" stroke-width="0.0">)</text>
<text x="501.42" y="299.45" font-size="15.07" textLength="28.54" lengthAdjust="spacingAndGlyphs" stroke="#000" stroke-width="0.15">1.1%</text>
<text x="553.43" y="271.76" font-size="14.37" textLength="28.13" lengthAdjust="spacingAndGlyphs" stroke="#000" stroke-width="0.15">0.3%</text>
<text x="545.33" y="295.71" font-size="13.30" textLength="3.70" lengthAdjust="spacingAndGlyphs" stroke="#000" stroke-width="0.0">(</text>
<text x="580.60" y="295.71" font-size="13.30" textLength="3.57" lengthAdjust="spacingAndGlyphs" stroke="#000" stroke-width="0.0">)</text>
<text x="550.31" y="297.06" font-size="13.94" textLength="29.06" lengthAdjust="spacingAndGlyphs" stroke="#000" stroke-width="0.15">1.4%</text>
<text x="600.43" y="271.55" font-size="14.79" textLength="28.13" lengthAdjust="spacingAndGlyphs" stroke="#000" stroke-width="0.15">0.2%</text>
<text x="596.33" y="292.32" font-size="13.72" textLength="3.70" lengthAdjust="spacingAndGlyphs" stroke="#000" stroke-width="0.0">(</text>
<text x="631.00" y="292.32" font-size="13.72" textLength="3.57" lengthAdjust="spacingAndGlyphs" stroke="#000" stroke-width="0.0">)</text>
<text x="601.83" y="293.75" font-size="14.51" textLength="27.92" lengthAdjust="spacingAndGlyphs" stroke="#000" stroke-width="0.15">0.9%</text>
<text x="652.44" y="270.35" font-size="14.79" textLength="27.72" lengthAdjust="spacingAndGlyphs" stroke="#000" stroke-width="0.15">0.3%</text>
<text x="645.13" y="291.72" font-size="13.72" textLength="3.70" lengthAdjust="spacingAndGlyphs" stroke="#000" stroke-width="0.0">(</text>
<text x="680.30" y="291.72" font-size="13.72" textLength="3.57" lengthAdjust="spacingAndGlyphs" stroke="#000" stroke-width="0.0">)</text>
<text x="650.11" y="293.15" font-size="14.51" textLength="28.96" lengthAdjust="spacingAndGlyphs" stroke="#000" stroke-width="0.15">1.1%</text>
<text x="702.94" y="269.85" font-size="14.93" textLength="27.72" lengthAdjust="spacingAndGlyphs" stroke="#000" stroke-width="0.15">0.3%</text>
<text x="696.73" y="291.12" font-size="13.72" textLength="3.70" lengthAdjust="spacingAndGlyphs" stroke="#000" stroke-width="0.0">(</text>
<text x="732.00" y="291.12" font-size="13.72" textLength="3.57" lengthAdjust="spacingAndGlyphs" stroke="#000" stroke-width="0.0">)</text>
<text x="701.71" y="292.55" font-size="14.51" textLength="29.06" lengthAdjust="spacingAndGlyphs" stroke="#000" stroke-width="0.15">1.4%</text>
<text x="421.44" y="127.08" font-size="13.75" textLength="32.33" lengthAdjust="spacingAndGlyphs" stroke="#000" stroke-width="0.25">予測</text>
<text x="575.93" y="108.31" font-size="12.34" textLength="4.81" lengthAdjust="spacingAndGlyphs" stroke="#000" stroke-width="0.0">(</text>
<text x="594.80" y="108.31" font-size="12.34" textLength="5.11" lengthAdjust="spacingAndGlyphs" stroke="#000" stroke-width="0.0">)</text>
<text x="601.69" y="109.25" font-size="13.47" textLength="114.56" lengthAdjust="spacingAndGlyphs" stroke="#000" stroke-width="0.25">内は前期比年率</text>
<text x="667.17" y="434.97" font-size="14.89" textLength="5.18" lengthAdjust="spacingAndGlyphs" stroke="#000" stroke-width="0.0">(</text>
<text x="673.90" y="436.46" font-size="14.90" textLength="72.21" lengthAdjust="spacingAndGlyphs" stroke="#000" stroke-width="0.25">年・四半期</text>
<text x="748.00" y="434.97" font-size="14.89" textLength="5.00" lengthAdjust="spacingAndGlyphs" stroke="#000" stroke-width="0.0">)</text>
<text x="21.17" y="469.87" font-size="14.89" textLength="5.18" lengthAdjust="spacingAndGlyphs" stroke="#000" stroke-width="0.0">(</text>
<text x="27.11" y="470.97" font-size="14.06" textLength="32.37" lengthAdjust="spacingAndGlyphs" stroke="#000" stroke-width="0.25">資料</text>
<text x="60.60" y="469.87" font-size="14.89" textLength="5.00" lengthAdjust="spacingAndGlyphs" stroke="#000" stroke-width="0.0">)</text>
<text x="68.09" y="471.37" font-size="14.20" textLength="196.06" lengthAdjust="spacingAndGlyphs" stroke="#000" stroke-width="0.15">内閣府経済社会総合研究所</text>
<text x="257.45" y="475.71" font-size="20.62" textLength="15.00" lengthAdjust="spacingAndGlyphs" stroke="#000" stroke-width="0.25">「</text>
<text x="272.11" y="471.33" font-size="14.49" textLength="135.56" lengthAdjust="spacingAndGlyphs" stroke="#000" stroke-width="0.25">四半期別GDP速報</text>
<text x="407.05" y="471.65" font-size="21.47" textLength="17.19" lengthAdjust="spacingAndGlyphs" stroke="#000" stroke-width="0.25">」</text>
<text x="1019.64" y="56.00" font-size="20.00" textLength="244.56" lengthAdjust="spacingAndGlyphs" stroke="#000" stroke-width="0.15">実質GDP成長率の推移</text>
<text x="1263.89" y="54.84" font-size="20.74" textLength="7.28" lengthAdjust="spacingAndGlyphs" stroke="#000" stroke-width="0.0">(</text>
<text x="1273.80" y="56.84" font-size="21.22" textLength="45.31" lengthAdjust="spacingAndGlyphs" stroke="#000" stroke-width="0.25">年度</text>
<text x="1321.80" y="54.84" font-size="20.74" textLength="6.54" lengthAdjust="spacingAndGlyphs" stroke="#000" stroke-width="0.0">)</text>
<text x="802.50" y="51.75" font-size="15.96" textLength="5.55" lengthAdjust="spacingAndGlyphs" stroke="#000" stroke-width="0.0">(</text>
<text x="808.82" y="53.20" font-size="16.15" textLength="53.37" lengthAdjust="spacingAndGlyphs" stroke="#000" stroke-width="0.25">前年比</text>
<text x="863.90" y="51.75" font-size="15.96" textLength="5.23" lengthAdjust="spacingAndGlyphs" stroke="#000" stroke-width="0.0">)</text>
<text x="829.26" y="79.53" font-size="17.46" textLength="17.29" lengthAdjust="spacingAndGlyphs" stroke="#000" stroke-width="0.15">4%</text>
<text x="829.14" y="109.63" font-size="17.46" textLength="17.41" lengthAdjust="spacingAndGlyphs" stroke="#000" stroke-width="0.15">3%</text>
<text x="828.89" y="139.73" font-size="17.46" textLength="17.67" lengthAdjust="spacingAndGlyphs" stroke="#000" stroke-width="0.15">2%</text>
<text x="830.21" y="169.83" font-size="17.46" textLength="16.32" lengthAdjust="spacingAndGlyphs" stroke="#000" stroke-width="0.15">1%</text>
<text x="829.14" y="199.93" font-size="17.46" textLength="17.41" lengthAdjust="spacingAndGlyphs" stroke="#000" stroke-width="0.15">0%</text>
<path d="M812.60,229.90 L827.10,229.90 L819.85,217.80 Z" fill="#000"/>
<text x="830.21" y="230.03" font-size="17.46" textLength="16.32" lengthAdjust="spacingAndGlyphs" stroke="#000" stroke-width="0.15">1%</text>
<path d="M812.60,260.00 L827.10,260.00 L819.85,247.90 Z" fill="#000"/>
<text x="828.89" y="260.13" font-size="17.46" textLength="17.67" lengthAdjust="spacingAndGlyphs" stroke="#000" stroke-width="0.15">2%</text>
<path d="M812.60,290.10 L827.10,290.10 L819.85,278.00 Z" fill="#000"/>
<text x="829.14" y="290.23" font-size="17.46" textLength="17.41" lengthAdjust="spacingAndGlyphs" stroke="#000" stroke-width="0.15">3%</text>
<path d="M812.60,320.20 L827.10,320.20 L819.85,308.10 Z" fill="#000"/>
<text x="829.26" y="320.33" font-size="17.46" textLength="17.29" lengthAdjust="spacingAndGlyphs" stroke="#000" stroke-width="0.15">4%</text>
<path d="M812.60,350.30 L827.10,350.30 L819.85,338.20 Z" fill="#000"/>
<text x="829.01" y="350.43" font-size="17.46" textLength="17.54" lengthAdjust="spacingAndGlyphs" stroke="#000" stroke-width="0.15">5%</text>
<path d="M812.60,380.40 L827.10,380.40 L819.85,368.30 Z" fill="#000"/>
<text x="828.89" y="380.53" font-size="17.46" textLength="17.67" lengthAdjust="spacingAndGlyphs" stroke="#000" stroke-width="0.15">6%</text>
<text x="889.19" y="400.82" font-size="17.89" textLength="36.83" lengthAdjust="spacingAndGlyphs" stroke="#000" stroke-width="0.15">2020</text>
<text x="982.61" y="400.82" font-size="17.89" textLength="37.00" lengthAdjust="spacingAndGlyphs" stroke="#000" stroke-width="0.15">2021</text>
<text x="1076.04" y="400.82" font-size="17.89" textLength="37.00" lengthAdjust="spacingAndGlyphs" stroke="#000" stroke-width="0.15">2022</text>
<text x="1169.47" y="400.82" font-size="17.89" textLength="36.83" lengthAdjust="spacingAndGlyphs" stroke="#000" stroke-width="0.15">2023</text>
<text x="1262.90" y="400.82" font-size="17.89" textLength="36.65" lengthAdjust="spacingAndGlyphs" stroke="#000" stroke-width="0.15">2024</text>
<text x="1356.33" y="400.82" font-size="17.89" textLength="36.83" lengthAdjust="spacingAndGlyphs" stroke="#000" stroke-width="0.15">2025</text>
<text x="1449.76" y="400.82" font-size="17.89" textLength="36.83" lengthAdjust="spacingAndGlyphs" stroke="#000" stroke-width="0.15">2026</text>
<path d="M880.40,361.60 L893.60,361.60 L887.00,349.30 Z" fill="#000"/>
<text x="894.96" y="361.43" font-size="17.32" textLength="33.37" lengthAdjust="spacingAndGlyphs" stroke="#000" stroke-width="0.15">3.9%</text>
<text x="986.19" y="243.63" font-size="17.18" textLength="31.00" lengthAdjust="spacingAndGlyphs" stroke="#000" stroke-width="0.15">3.1%</text>
<text x="1078.02" y="248.03" font-size="17.18" textLength="31.78" lengthAdjust="spacingAndGlyphs" stroke="#000" stroke-width="0.15">1.3%</text>
<text x="1172.08" y="250.03" font-size="17.18" textLength="31.83" lengthAdjust="spacingAndGlyphs" stroke="#000" stroke-width="0.15">0.5%</text>
<text x="1266.89" y="246.33" font-size="17.18" textLength="31.52" lengthAdjust="spacingAndGlyphs" stroke="#000" stroke-width="0.15">0.8%</text>
<text x="1360.99" y="244.53" font-size="17.18" textLength="31.42" lengthAdjust="spacingAndGlyphs" stroke="#000" stroke-width="0.15">0.6%</text>
<text x="1454.39" y="241.53" font-size="17.18" textLength="31.52" lengthAdjust="spacingAndGlyphs" stroke="#000" stroke-width="0.15">0.9%</text>
<text x="1438.03" y="119.03" font-size="15.52" textLength="34.40" lengthAdjust="spacingAndGlyphs" stroke="#000" stroke-width="0.25">予測</text>
<text x="1467.16" y="440.59" font-size="15.74" textLength="5.80" lengthAdjust="spacingAndGlyphs" stroke="#000" stroke-width="0.0">(</text>
<text x="1474.20" y="442.42" font-size="16.02" textLength="34.69" lengthAdjust="spacingAndGlyphs" stroke="#000" stroke-width="0.25">年度</text>
<text x="1510.70" y="440.59" font-size="15.74" textLength="5.23" lengthAdjust="spacingAndGlyphs" stroke="#000" stroke-width="0.0">)</text>
<text x="799.97" y="463.00" font-size="16.17" textLength="5.72" lengthAdjust="spacingAndGlyphs" stroke="#000" stroke-width="0.0">(</text>
<text x="806.54" y="464.16" font-size="15.25" textLength="35.77" lengthAdjust="spacingAndGlyphs" stroke="#000" stroke-width="0.25">資料</text>
<text x="843.54" y="463.00" font-size="16.17" textLength="5.52" lengthAdjust="spacingAndGlyphs" stroke="#000" stroke-width="0.0">)</text>
<text x="851.82" y="464.59" font-size="15.40" textLength="216.65" lengthAdjust="spacingAndGlyphs" stroke="#000" stroke-width="0.15">内閣府経済社会総合研究所</text>
<text x="1061.06" y="469.27" font-size="22.28" textLength="16.58" lengthAdjust="spacingAndGlyphs" stroke="#000" stroke-width="0.25">「</text>
<text x="1077.26" y="464.54" font-size="15.71" textLength="149.79" lengthAdjust="spacingAndGlyphs" stroke="#000" stroke-width="0.25">四半期別GDP速報</text>
<text x="1226.37" y="464.88" font-size="23.24" textLength="18.99" lengthAdjust="spacingAndGlyphs" stroke="#000" stroke-width="0.25">」</text>
</svg></body></html>
